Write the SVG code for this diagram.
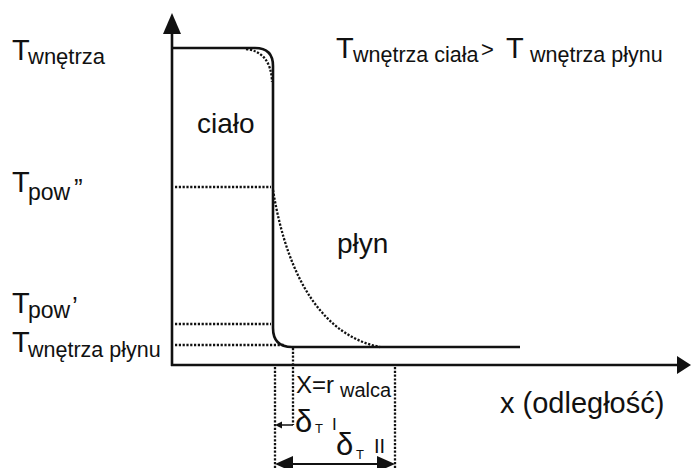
<svg xmlns="http://www.w3.org/2000/svg" width="692" height="468" viewBox="0 0 692 468">
<style>
text{font-family:"Liberation Sans",Arial,sans-serif;fill:#111}
.solid{fill:none;stroke:#111;stroke-width:2.6;stroke-linejoin:round}
.dot{fill:none;stroke:#111;stroke-width:2.3;stroke-dasharray:2.2 1.6}
.head{fill:#111;stroke:none}
.big{font-size:29px}
.sub{font-size:21.5px}
.delta{font-size:31px}
</style>
<rect width="692" height="468" fill="#fff"/>
<g id="connectors">
  <line class="solid" x1="172" y1="366" x2="172" y2="30"/>
  <polygon class="head" points="172,13 163,34 181,34"/>
  <line class="solid" x1="171" y1="365" x2="678" y2="365"/>
  <polygon class="head" points="691,365 677,356 677,374"/>
  <path class="solid" d="M172,48 L255,48 Q273,48 273,66 L273,328 Q273,347 292,347 L520,347"/>
  <path class="dot" d="M246,49 Q271,52 272,82"/>
  <path class="dot" d="M273,190 C288,282 325,336 380,347"/>
  <line class="dot" x1="175" y1="187" x2="271" y2="187"/>
  <line class="dot" x1="175" y1="324" x2="271" y2="324"/>
  <line class="dot" x1="175" y1="345" x2="284" y2="345"/>
  <line class="dot" x1="275" y1="367" x2="275" y2="468"/>
  <line class="dot" x1="293" y1="348" x2="293" y2="425"/>
  <line class="dot" x1="395" y1="367" x2="395" y2="468"/>
  <line class="solid" x1="280" y1="425" x2="293" y2="425" style="stroke-width:1.5"/>
  <polygon class="head" points="275,425 282,421.5 282,428.5"/>
  <line class="solid" x1="290" y1="464" x2="380" y2="464" style="stroke-width:2"/>
  <polygon class="head" points="275,464 293,456 293,472"/>
  <polygon class="head" points="395,464 377,456 377,472"/>
</g>
<g id="label-t-wnetrza">
  <text class="big" x="12" y="60">T</text>
  <text class="sub" x="28" y="64" style="font-size:22px">wnętrza</text>
</g>
<g id="label-condition">
  <text class="big" x="336" y="58">T</text>
  <text class="sub" x="353" y="62">wnętrza ciała</text>
  <text x="481" y="57" style="font-size:22px">&gt;</text>
  <text class="big" x="506" y="58">T</text>
  <text class="sub" x="530" y="62">wnętrza płynu</text>
</g>
<g id="label-cialo">
  <text x="197" y="133" style="font-size:28px">ciało</text>
</g>
<g id="label-plyn">
  <text x="337" y="253" style="font-size:28px">płyn</text>
</g>
<g id="label-tpow2">
  <text class="big" x="12" y="192">T</text>
  <text x="28" y="200" style="font-size:23px">pow</text>
  <text x="74" y="197" style="font-size:26px">”</text>
</g>
<g id="label-tpow1">
  <text class="big" x="12" y="313">T</text>
  <text x="28" y="318" style="font-size:23px">pow</text>
  <text x="72" y="315" style="font-size:26px">’</text>
</g>
<g id="label-t-plynu">
  <text class="big" x="12" y="352">T</text>
  <text class="sub" x="28" y="357">wnętrza płynu</text>
</g>
<g id="label-x-r">
  <text x="296" y="393" style="font-size:24px">X=r</text>
  <text x="340" y="397" style="font-size:20px">walca</text>
</g>
<g id="label-delta1">
  <text class="delta" x="295" y="432">δ</text>
  <text x="315" y="433" style="font-size:13px">T</text>
  <text x="332" y="430" style="font-size:17px">I</text>
</g>
<g id="label-delta2">
  <text class="delta" x="336" y="455">δ</text>
  <text x="356" y="459" style="font-size:13px">T</text>
  <text x="374" y="453" style="font-size:20px">II</text>
</g>
<g id="label-x-axis">
  <text x="500" y="413" style="font-size:29px">x (odległość)</text>
</g>
</svg>
